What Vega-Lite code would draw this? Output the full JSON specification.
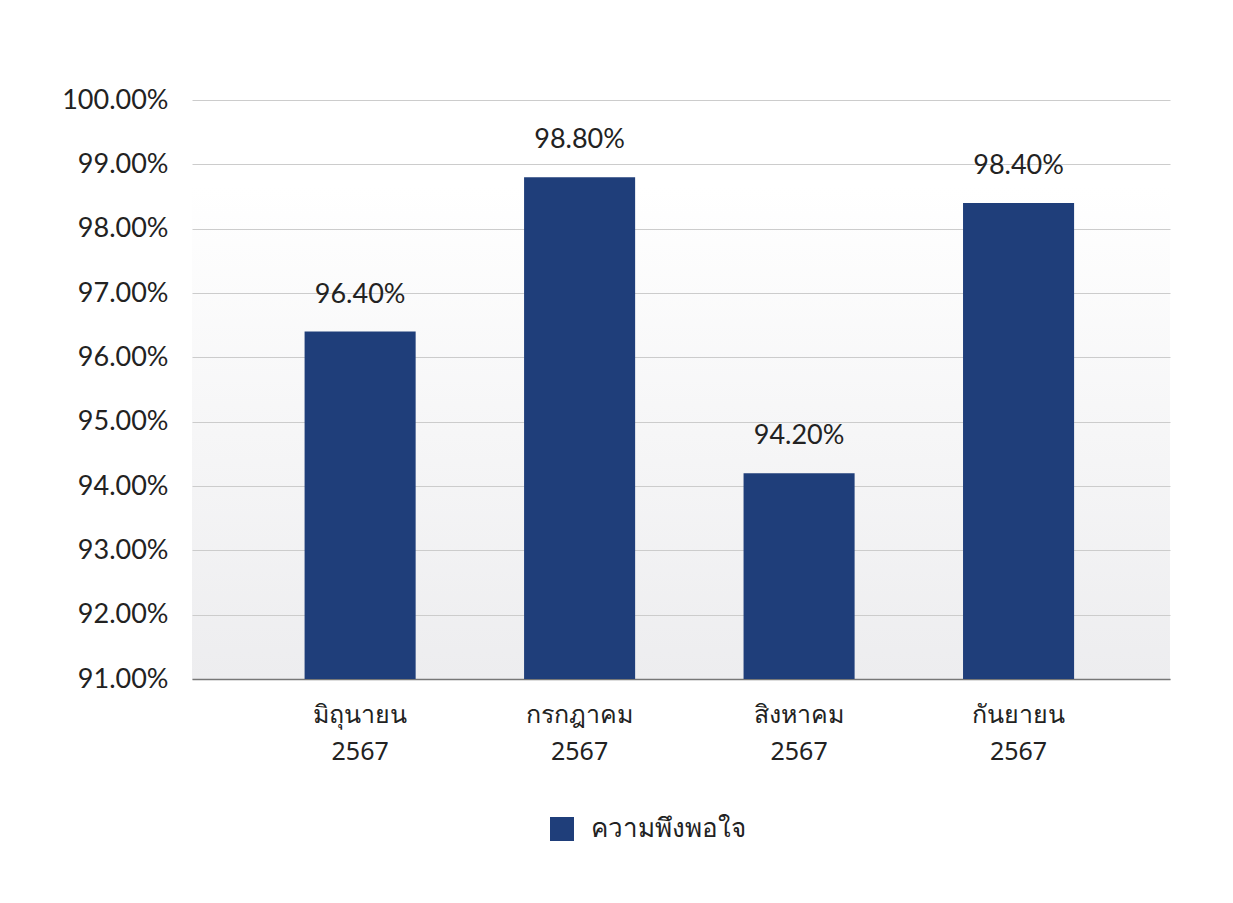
{
  "$schema": "https://vega.github.io/schema/vega-lite/v6.json",
  "autosize": "none",
  "width": 978,
  "height": 579,
  "padding": {"left": 192, "top": 100, "right": 63, "bottom": 224},
  "background": "white",
  "config": {
    "view": {"stroke": null,
      "fill": {"gradient": "linear", "x1": 0, "y1": 0, "x2": 0, "y2": 1,
          "stops": [{"offset": 0, "color": "#ffffff"}, {"offset": 0.15, "color": "#ffffff"}, {"offset": 1, "color": "#ededef"}]}},
    "font": "Lato"
  },
  "data": {
    "values": [
      {"month": "มิถุนายน 2567", "value": 96.4, "label": "96.40%", "series": "ความพึงพอใจ"},
      {"month": "กรกฎาคม 2567", "value": 98.8, "label": "98.80%", "series": "ความพึงพอใจ"},
      {"month": "สิงหาคม 2567", "value": 94.2, "label": "94.20%", "series": "ความพึงพอใจ"},
      {"month": "กันยายน 2567", "value": 98.4, "label": "98.40%", "series": "ความพึงพอใจ"}
    ]
  },
  "layer": [
    {
      "mark": {"type": "bar", "color": "#1f3e7a"},
      "encoding": {
        "x": {
          "field": "month", "type": "nominal", "sort": null,
          "scale": {"paddingInner": 0.494, "paddingOuter": 0.475, "align": 0.54},
          "axis": {
            "title": null, "labelAngle": 0, "labelExpr": "split(datum.label, ' ')",
            "labelFontSize": 25, "labelColor": "#222222", "labelLineHeight": 37,
            "labelPadding": 23, "ticks": false, "domainColor": "#777777", "domainWidth": 1.5,
            "labelFont": "Noto Sans"
          }
        },
        "y": {
          "field": "value", "type": "quantitative",
          "scale": {"domain": [91, 100], "zero": false, "clamp": true},
          "axis": {
            "title": null, "values": [91, 92, 93, 94, 95, 96, 97, 98, 99, 100],
            "labelExpr": "format(datum.value, '.2f') + '%'", "labelOverlap": false,
            "labelFontSize": 27, "labelColor": "#222222", "labelPadding": 24,
            "ticks": false, "domain": false, "gridColor": "#cccccc", "gridWidth": 1
          }
        },
        "color": {
          "field": "series", "type": "nominal",
          "scale": {"range": ["#1f3e7a"]},
          "legend": {
            "title": null, "orient": "none", "legendX": 357, "legendY": 716,
            "symbolType": "square", "symbolSize": 576, "symbolStrokeWidth": 0,
            "labelFontSize": 26, "labelColor": "#222222", "labelOffset": 16,
            "labelFont": "Noto Sans"
          }
        }
      }
    },
    {
      "mark": {"type": "text", "dy": -37, "baseline": "middle", "fontSize": 27, "color": "#222222"},
      "encoding": {
        "x": {"field": "month", "type": "nominal", "sort": null},
        "y": {"field": "value", "type": "quantitative"},
        "text": {"field": "label"}
      }
    }
  ]
}
